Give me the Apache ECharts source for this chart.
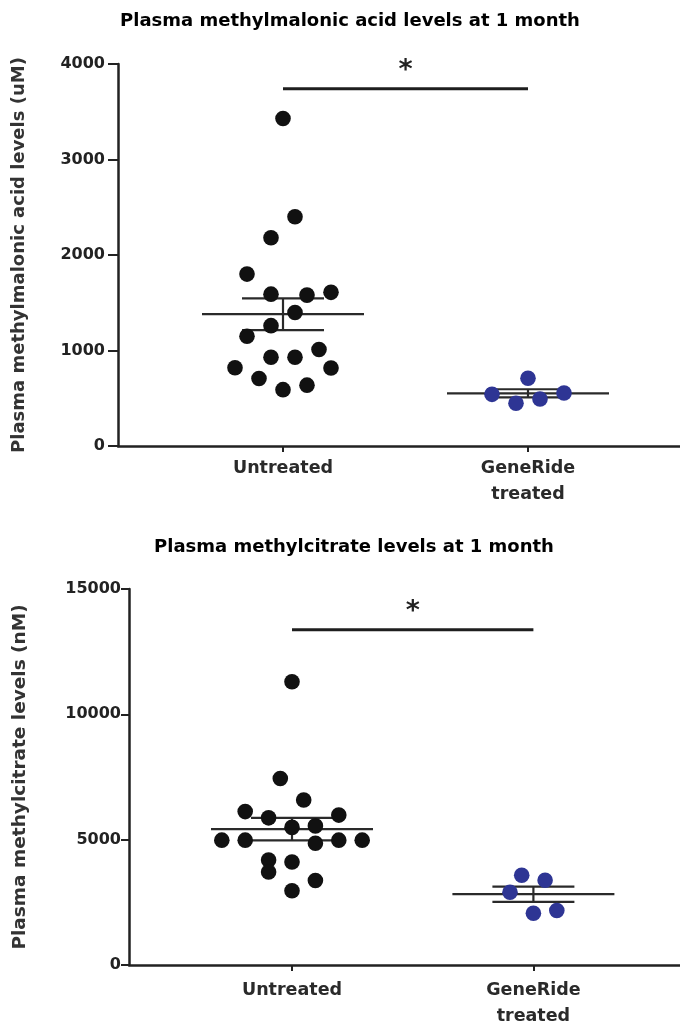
<!DOCTYPE html>
<html><head><meta charset="utf-8">
<script src="https://cdn.jsdelivr.net/npm/echarts@6/dist/echarts.min.js"></script>
<style>html,body{margin:0;padding:0;background:#fff}#c{width:680px;height:1026px}</style>
</head><body><div id="c"></div>
<script>
// ---------- data ----------
const categories = ['Untreated', 'GeneRide\ntreated'];
const titles = ['Plasma methylmalonic acid levels at 1 month', 'Plasma methylcitrate levels at 1 month'];
const yNames = ['Plasma methylmalonic acid levels (uM)', 'Plasma methylcitrate levels (nM)'];
const mmaTicks = [0, 1000, 2000, 3000, 4000];
const mcTicks = [0, 5000, 10000, 15000];

// Plasma methylmalonic acid (uM)
const mmaUntreated = [3430, 2400, 2180, 1800, 1590, 1580, 1609, 1398, 1260, 1150, 1010, 929, 929, 819, 817, 707, 637, 590];
const mmaUntreatedSlot = [0, 1, -1, -3, -1, 2, 4, 1, -1, -3, 3, -1, 1, -4, 4, -2, 2, 0];
const mmaTreated = [709, 541, 555, 447, 492];
const mmaTreatedSlot = [0, -3, 3, -1, 1];
const mmaMean = [1380, 552];
const mmaSem = [166, 42];
const mmaSignif = 3740;

// Plasma methylcitrate (nM)
const mcUntreated = [11300, 7440, 6580, 6120, 5870, 5980, 5490, 5550, 4980, 4980, 4860, 4980, 4980, 4190, 4110, 3710, 3370, 2960];
const mcUntreatedSlot = [0, -1, 1, -4, -2, 4, 0, 2, -6, -4, 2, 4, 6, -2, 0, -2, 2, 0];
const mcTreated = [3580, 3380, 2905, 2065, 2175];
const mcTreatedSlot = [-1, 1, -2, 0, 2];
const mcMean = [5420, 2825];
const mcSem = [450, 305];
const mcSignif = 13370;

// ---------- chart ----------
const FONT = 'DejaVu Sans';
const chart = echarts.init(document.getElementById('c'), null, {renderer: 'canvas'});

function pts(cat, vals, slots) { return vals.map((v, i) => [cat, v, slots[i]]); }

function dotSeries(grid, data, color, step) {
  return {
    type: 'custom', xAxisIndex: grid, yAxisIndex: grid, clip: false, z: 5,
    data: data,
    renderItem: function (params, api) {
      const p = api.coord([api.value(0), api.value(1)]);
      return { type: 'circle', shape: {cx: p[0] + api.value(2) * step, cy: p[1], r: 7.8},
               style: {fill: color} };
    }
  };
}
function errSeries(grid, means, sems) {
  return {
    type: 'custom', xAxisIndex: grid, yAxisIndex: grid, clip: false, z: 3,
    data: means.map((m, i) => [i + 1, m, sems[i]]),
    renderItem: function (params, api) {
      const c = api.value(0), m = api.value(1), s = api.value(2);
      const pm = api.coord([c, m]), pt = api.coord([c, m + s]), pb = api.coord([c, m - s]);
      const st = {stroke: '#2a2a2a', lineWidth: 2.2};
      return { type: 'group', children: [
        {type: 'line', shape: {x1: pm[0] - 81, y1: pm[1], x2: pm[0] + 81, y2: pm[1]}, style: st},
        {type: 'line', shape: {x1: pt[0] - 41, y1: pt[1], x2: pt[0] + 41, y2: pt[1]}, style: st},
        {type: 'line', shape: {x1: pb[0] - 41, y1: pb[1], x2: pb[0] + 41, y2: pb[1]}, style: st},
        {type: 'line', shape: {x1: pm[0], y1: pt[1], x2: pm[0], y2: pb[1]}, style: st}
      ]};
    }
  };
}
function sigSeries(grid, v) {
  return {
    type: 'custom', xAxisIndex: grid, yAxisIndex: grid, clip: false, z: 3,
    data: [[1, 2, v]],
    renderItem: function (params, api) {
      const a = api.coord([api.value(0), api.value(2)]), b = api.coord([api.value(1), api.value(2)]);
      return { type: 'group', children: [
        {type: 'line', shape: {x1: a[0], y1: a[1], x2: b[0], y2: b[1]}, style: {stroke: '#1e1e1e', lineWidth: 3}},
        {type: 'text', style: {text: '*', x: (a[0] + b[0]) / 2, y: a[1] - 18, align: 'center', verticalAlign: 'middle',
          font: 'bold 27px "' + FONT + '"', fill: '#222'}}
      ]};
    }
  };
}

function xAxis(grid, min, max, margin) {
  return {
    type: 'value', gridIndex: grid, min: min, max: max, splitLine: {show: false},
    axisLine: {show: true, lineStyle: {color: '#222', width: 2.5}},
    axisTick: {show: true, customValues: [1, 2], length: 6, lineStyle: {color: '#222', width: 2}},
    axisLabel: {show: true, customValues: [1, 2], margin: margin,
      formatter: v => categories[Math.round(v) - 1] || '',
      fontFamily: FONT, fontWeight: 'bold', fontSize: 17.5, lineHeight: 26, color: '#2a2a2a'}
  };
}
function yAxis(grid, max, interval, name, gap, tickLen, margin, nameSize) {
  return {
    type: 'value', gridIndex: grid, min: 0, max: max, interval: interval, splitLine: {show: false},
    name: name, nameLocation: 'middle', nameGap: gap, nameRotate: 90,
    nameTextStyle: {fontFamily: FONT, fontWeight: 'bold', fontSize: nameSize, color: '#333'},
    axisLine: {show: true, lineStyle: {color: '#222', width: 2.5}},
    axisTick: {show: true, length: tickLen, lineStyle: {color: '#222', width: 2}},
    axisLabel: {margin: margin, fontFamily: FONT, fontWeight: 'bold', fontSize: 16, color: '#222',
      formatter: v => String(v)}
  };
}

const option = {
  animation: false,
  backgroundColor: '#fff',
  title: [
    {text: titles[0], left: 350, top: 12, textAlign: 'center', padding: 0,
     textStyle: {fontFamily: FONT, fontWeight: 'bold', fontSize: 18, color: '#000'}},
    {text: titles[1], left: 354, top: 538, textAlign: 'center', padding: 0,
     textStyle: {fontFamily: FONT, fontWeight: 'bold', fontSize: 18, color: '#000'}}
  ],
  grid: [
    {left: 118, top: 64, width: 562, height: 382, outerBoundsMode: 'none', containLabel: false},
    {left: 129, top: 589, width: 551, height: 376, outerBoundsMode: 'none', containLabel: false}
  ],
  xAxis: [
    xAxis(0, 1 - 165 / 245, 2 + 152 / 245, 9),
    xAxis(1, 1 - 163 / 241.4, 2 + 146.6 / 241.4, 12)
  ],
  yAxis: [
    yAxis(0, mmaTicks[mmaTicks.length - 1], mmaTicks[1] - mmaTicks[0], yNames[0], 90, 10, 13, 18),
    yAxis(1, mcTicks[mcTicks.length - 1], mcTicks[1] - mcTicks[0], yNames[1], 99, 8, 8, 18.5)
  ],
  series: [
    errSeries(0, mmaMean, mmaSem),
    sigSeries(0, mmaSignif),
    dotSeries(0, pts(1, mmaUntreated, mmaUntreatedSlot), '#111', 12),
    dotSeries(0, pts(2, mmaTreated, mmaTreatedSlot), '#2e3594', 12),
    errSeries(1, mcMean, mcSem),
    sigSeries(1, mcSignif),
    dotSeries(1, pts(1, mcUntreated, mcUntreatedSlot), '#111', 11.7),
    dotSeries(1, pts(2, mcTreated, mcTreatedSlot), '#2e3594', 11.7)
  ]
};
chart.setOption(option);
</script>
</body></html>
